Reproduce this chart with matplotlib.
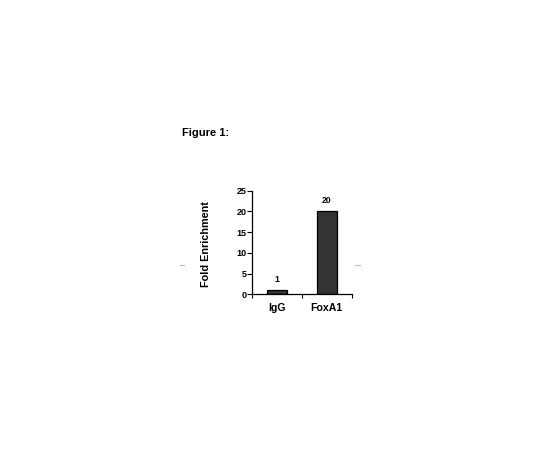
import numpy as np
import matplotlib
matplotlib.use("Agg")
import matplotlib.pyplot as plt
from matplotlib.lines import Line2D

# ====== Datos ======
categorias = ["IgG", "FoxA1"]
enriquecimiento = [1, 20]
etiquetas_barras = ["1", "20"]
ticks_y = [0, 5, 10, 15, 20, 25]

plt.rcParams['font.family'] = ['Liberation Sans', 'DejaVu Sans']
plt.rcParams['font.weight'] = 'bold'

fig = plt.figure(figsize=(5.4, 4.5), dpi=100)
# ejes colocados en pixeles del original
ax = fig.add_axes([252.3 / 540, 1 - 294.2 / 450, 99.2 / 540, 103.5 / 450])

pos = np.arange(len(categorias))
barras = ax.bar(pos, enriquecimiento, width=0.4, color="#333333",
                edgecolor="black", linewidth=0.9)

for b, txt in zip(barras, etiquetas_barras):
    ax.annotate(txt, (b.get_x() + b.get_width() / 2, b.get_height()),
                xytext=(0, 4.5), textcoords="offset points",
                ha="center", va="bottom", fontsize=6.2, fontweight="bold")

ax.set_xlim(-0.5, len(categorias) - 0.5)
ax.set_ylim(0, 25)
ax.set_yticks(ticks_y)
ax.set_xticks(pos)
ax.set_xticklabels(categorias, fontsize=7.6, fontweight="bold")
ax.set_xticks(np.arange(len(categorias) + 1) - 0.5, minor=True)
ax.tick_params(axis="x", which="major", length=0, pad=6.5)
ax.tick_params(axis="x", which="minor", length=3.2, width=0.8, direction="out")
ax.tick_params(axis="y", labelsize=6.5, length=3.3, width=0.8, pad=0.8)
for lbl in ax.get_yticklabels():
    lbl.set_fontweight("bold")

ax.spines["top"].set_visible(False)
ax.spines["right"].set_visible(False)
for s in ["left", "bottom"]:
    ax.spines[s].set_linewidth(0.9)

# etiqueta del eje y puesta a mano
fig.text(206 / 540, 1 - 244 / 450, "Fold Enrichment", rotation=90,
         fontsize=7.8, fontweight="bold", ha="center", va="center")

fig.text(181.7 / 540, 1 - 132.7 / 450, "Figure 1:", fontsize=8, fontweight="bold",
         va="center", ha="left")

# pequeñas marcas grises en los bordes
y_m = 1 - 265 / 450
fig.add_artist(Line2D([0.333, 0.341], [y_m, y_m], color="#bbbbbb", lw=0.8))
fig.add_artist(Line2D([0.657, 0.667], [y_m, y_m], color="#bbbbbb", lw=0.8))

fig.savefig("out.png", dpi=100)
